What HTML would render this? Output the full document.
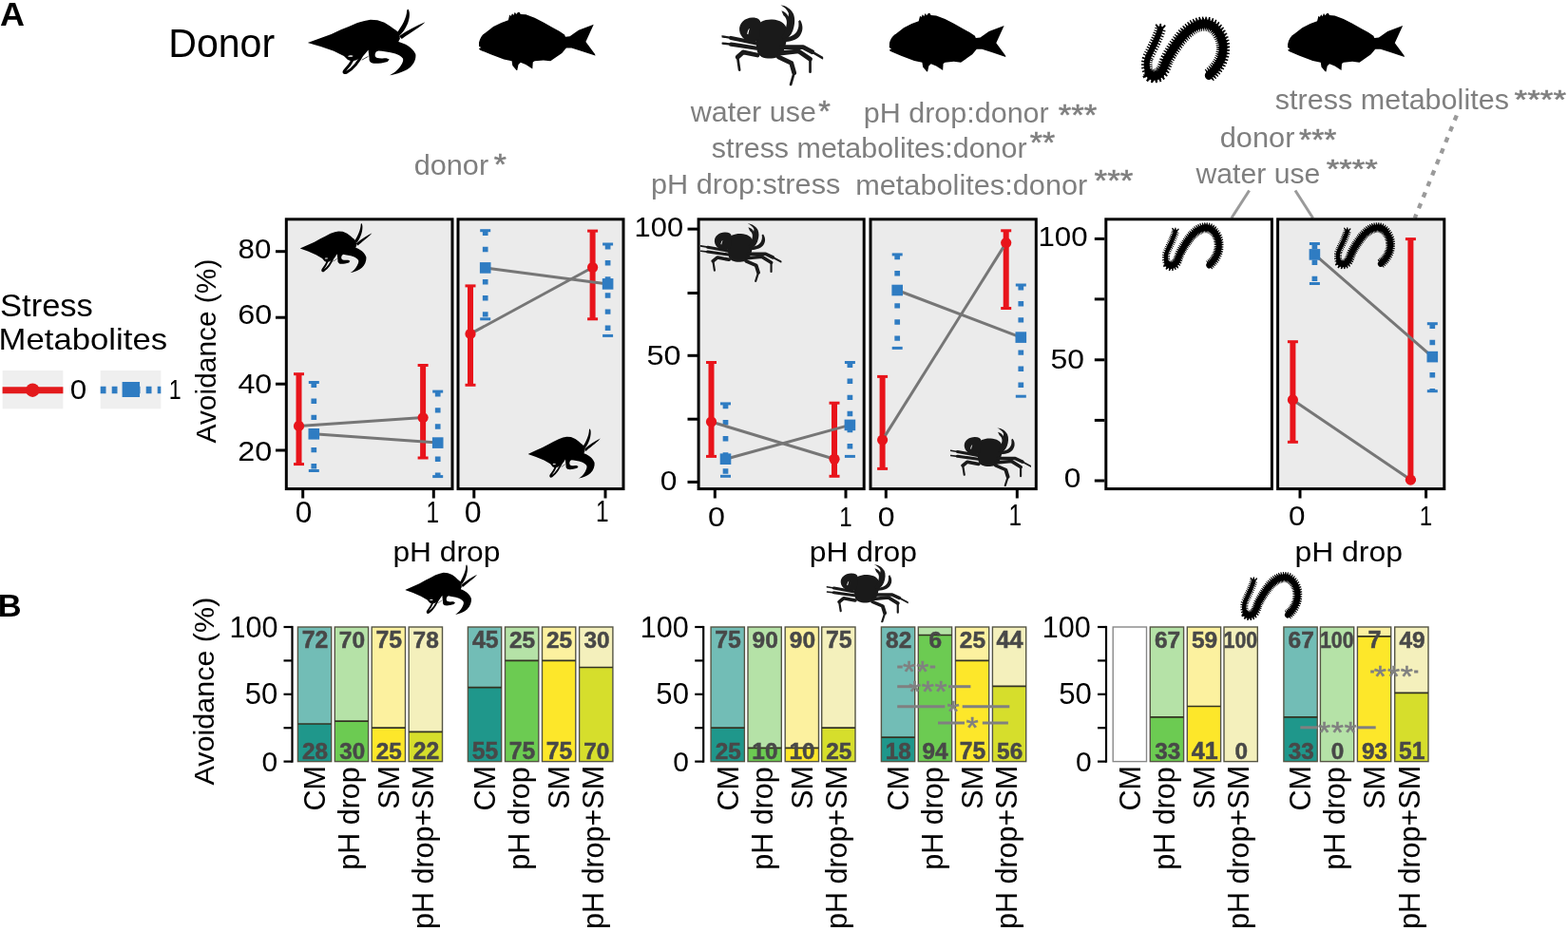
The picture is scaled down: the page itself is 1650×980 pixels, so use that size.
<!DOCTYPE html>
<html><head><meta charset="utf-8"><title>Figure</title>
<style>
html,body{margin:0;padding:0;background:#fff;overflow:hidden;}
svg{display:block;}
text{font-family:'Liberation Sans', Arial, Helvetica, sans-serif;}
</style></head>
<body>
<svg width="1650" height="980" viewBox="0 0 1650 980">
<defs><symbol id="hermit" viewBox="150 95 1350 770" preserveAspectRatio="none">
<path d="M150,488 L300,432 L420,388 L530,338 L620,300 L720,258 L800,235 L870,222 L950,228 L1030,255 L1090,292 L1140,330 L1165,345 L1185,365 L1202,400 L1208,440 L1190,478
C1260,495 1350,540 1387,620 C1395,670 1370,740 1308,785 C1260,820 1180,850 1088,866
C1130,845 1190,800 1216,755 C1240,720 1250,690 1241,670 C1232,650 1190,625 1155,614
L1100,600 L1000,585 L960,580
L935,592 C915,620 920,650 940,660 C980,675 1030,665 1052,666 L1086,681 L1064,706 C1000,725 930,730 893,724 C865,715 850,690 856,669 L844,571
L830,590 L800,625 L760,660 L700,690 L650,698 L610,685 L565,640 L450,585 L300,532 Z"/>
<path d="M1172,372 C1228,300 1285,200 1288,112 L1300,98 C1326,128 1322,200 1294,272 C1266,334 1236,376 1206,404 Z"/>
<path d="M1198,412 C1298,342 1398,292 1497,250 C1452,300 1352,356 1228,444 Z"/>
<path fill="none" stroke="#000" stroke-width="32" stroke-linecap="round" d="M680,660 C650,720 600,785 570,815 C558,832 575,840 595,830 C650,800 730,720 795,590"/>
<path fill="none" stroke="#000" stroke-width="8" d="M771,687 L844,645"/>
<path fill="#fff" d="M612,640 C630,632 660,632 673,640 C660,650 630,652 612,646 Z"/>
</symbol><symbol id="fish" viewBox="166 94 1324 660" preserveAspectRatio="none">
<path d="M160,470 C170,400 200,350 240,330 L330,260 L420,215 L500,185 L515,125 L530,140 L545,110 L560,130 L575,95 L590,120 L620,85 L640,118 L700,122 L800,160 L900,210 L1000,268 L1080,310 L1140,350 L1150,375 L1200,370 L1300,300 L1472,235 L1382,430 L1502,592 L1330,535 L1220,500 L1160,500 L1110,560 L980,650 L900,640 L800,650 L780,662 L775,737 L700,690 L640,665 L615,690 L600,762 L548,700 L540,650 L450,630 L300,575 L180,525 L165,510 L190,495 L158,478 Z"/>
</symbol><symbol id="crab" viewBox="150 45 1100 895" preserveAspectRatio="none">
<g fill="#1a1a1a">
<path d="M526,300 C540,235 620,205 700,210 C780,215 845,250 857,320 C865,400 850,480 820,560 C790,620 720,640 650,636 C580,632 540,600 530,540 C522,470 520,380 526,300 Z"/>
<path fill-rule="evenodd" d="M342,330 C335,250 400,190 480,188 C535,186 568,208 572,245 L560,420 L500,462 C420,455 350,410 342,330 Z M425,368 C428,340 438,318 452,305 C447,328 440,350 436,372 Z"/>
<path d="M800,400 C830,360 850,300 855,250 C858,215 845,185 820,165 L798,113 C835,125 862,150 872,178 L876,140 C860,100 825,70 789,53 C850,55 905,100 928,150 C948,200 943,270 922,330 C902,380 872,420 832,442 Z"/>
<path d="M818,455 C895,455 960,435 995,392 C1030,345 1040,280 1000,215 L982,228 C988,270 985,300 968,335 C948,378 895,405 808,418 Z"/>
</g>
<g fill="none" stroke="#1a1a1a" stroke-linecap="round" stroke-linejoin="round">
<polyline stroke-width="44" points="526,470 340,430 250,412"/>
<polyline stroke-width="24" points="250,412 152,394"/>
<polyline stroke-width="44" points="526,524 340,495 250,482"/>
<polyline stroke-width="24" points="250,482 157,470"/>
<polyline stroke-width="50" points="536,600 381,568 322,622"/>
<polyline stroke-width="28" points="322,622 342,763"/>
<polyline stroke-width="50" points="798,513 1032,513 1130,565"/>
<polyline stroke-width="26" points="1130,565 1245,633"/>
<polyline stroke-width="50" points="779,579 983,557 1109,644"/>
<polyline stroke-width="28" points="1109,644 1109,784"/>
<polyline stroke-width="50" points="769,622 905,687 935,795"/>
<polyline stroke-width="28" points="935,795 898,925"/>
</g>
</symbol><symbol id="worm" viewBox="175 207 950 658" preserveAspectRatio="none">
<g fill="none" stroke="#000" stroke-linejoin="round">
<path stroke-width="62" stroke-linecap="round" d="M378,330 C352,420 292,520 247,610 C227,660 230,720 252,762"/>
<path stroke-width="118" stroke-dasharray="12 15" stroke-linecap="butt" d="M378,330 C352,420 292,520 247,610 C227,660 230,720 252,762"/>
<path stroke-width="86" stroke-linecap="round" d="M252,762 C277,807 342,810 387,762 C422,720 432,660 457,618 C492,555 532,500 577,445 C622,390 702,305 802,282 C882,265 962,290 1020,395 C1060,470 1055,560 1030,625 C1005,690 960,740 897,791"/>
<path stroke-width="146" stroke-dasharray="12 15" stroke-linecap="butt" d="M252,762 C277,807 342,810 387,762 C422,720 432,660 457,618 C492,555 532,500 577,445 C622,390 702,305 802,282 C882,265 962,290 1020,395 C1060,470 1055,560 1030,625 C1005,690 960,740 897,791"/>
<path stroke-width="112" stroke-dasharray="16 11" stroke-linecap="butt" d="M252,762 C277,807 342,810 387,762 C422,720 432,660 457,618 C492,555 532,500 577,445 C622,390 702,305 802,282 C882,265 962,290 1020,395 C1060,470 1055,560 1030,625 C1005,690 960,740 897,791"/>
<path stroke-width="20" stroke-linecap="round" d="M370,335 L335,290 M390,335 L425,298 M378,330 L380,285"/>
</g>
</symbol></defs>
<rect width="1650" height="980" fill="#fff"/>
<text transform="translate(-0.10,26.50) scale(1.0261,1)" font-size="35.05" font-weight="bold" fill="#000">A</text>
<text transform="translate(177.21,59.88) scale(0.9752,1)" font-size="42.15" fill="#000">Donor</text>
<use href="#hermit" x="323.8" y="9.2" width="123.9" height="70.2"/>
<use href="#fish" x="504.0" y="12.7" width="122.4" height="61.3"/>
<use href="#crab" x="759.5" y="4.8" width="106.7" height="85.8"/>
<use href="#fish" x="935.8" y="13.8" width="122.5" height="61.7"/>
<use href="#worm" x="1201.0" y="17.5" width="93.5" height="69.8"/>
<use href="#fish" x="1355.1" y="13.8" width="122.7" height="61.7"/>
<text transform="translate(435.70,184.30) scale(1.0227,1)" font-size="30.00" fill="#7f7f7f">donor</text>
<text transform="translate(726.78,128.30) scale(1.0159,1)" font-size="30.00" fill="#7f7f7f">water use</text>
<text transform="translate(908.72,128.90) scale(1.0170,1)" font-size="30.00" fill="#7f7f7f">pH drop:donor</text>
<text transform="translate(748.86,166.40) scale(1.0157,1)" font-size="30.00" fill="#7f7f7f">stress metabolites:donor</text>
<text transform="translate(684.91,204.30) scale(1.0225,1)" font-size="30.00" fill="#7f7f7f">pH drop:stress</text>
<text transform="translate(900.13,204.50) scale(1.0240,1)" font-size="30.00" fill="#7f7f7f">metabolites:donor</text>
<text transform="translate(1341.76,115.10) scale(1.0187,1)" font-size="30.00" fill="#7f7f7f">stress metabolites</text>
<text transform="translate(1283.69,154.90) scale(1.0267,1)" font-size="30.00" fill="#7f7f7f">donor</text>
<text transform="translate(1258.38,192.50) scale(1.0074,1)" font-size="30.00" fill="#7f7f7f">water use</text>
<text transform="translate(519.71,183.91) scale(1.0755,1)" font-size="31.43" fill="#7f7f7f" stroke="#7f7f7f" stroke-width="0.5">*</text>
<text transform="translate(861.23,127.91) scale(1.0402,1)" font-size="31.14" fill="#7f7f7f" stroke="#7f7f7f" stroke-width="0.5">*</text>
<text transform="translate(1113.69,131.61) scale(1.1070,1)" font-size="31.43" fill="#7f7f7f" stroke="#7f7f7f" stroke-width="0.5">***</text>
<text transform="translate(1083.71,161.31) scale(1.0805,1)" font-size="31.43" fill="#7f7f7f" stroke="#7f7f7f" stroke-width="0.5">**</text>
<text transform="translate(1151.49,200.50) scale(1.0955,1)" font-size="32.00" fill="#7f7f7f" stroke="#7f7f7f" stroke-width="0.5">***</text>
<text transform="translate(1593.59,113.75) scale(1.2632,1)" font-size="27.71" fill="#7f7f7f" stroke="#7f7f7f" stroke-width="0.5">****</text>
<text transform="translate(1367.11,158.31) scale(1.0931,1)" font-size="30.86" fill="#7f7f7f" stroke="#7f7f7f" stroke-width="0.5">***</text>
<text transform="translate(1395.79,186.96) scale(1.2777,1)" font-size="27.14" fill="#7f7f7f" stroke="#7f7f7f" stroke-width="0.5">****</text>
<line x1="1314.6" y1="200.5" x2="1295.9" y2="229.5" stroke="#9a9a9a" stroke-width="3"/>
<line x1="1363" y1="200.5" x2="1381.6" y2="229.5" stroke="#9a9a9a" stroke-width="3"/>
<line x1="1532.8" y1="121.5" x2="1488.8" y2="229.5" stroke="#9a9a9a" stroke-width="4.3" stroke-dasharray="5.5 7"/>
<text transform="translate(0.05,333.17) scale(1.0482,1)" font-size="32.93" fill="#000">Stress</text>
<text transform="translate(-1.47,367.89) scale(1.1348,1)" font-size="30.61" fill="#000">Metabolites</text>
<rect x="2.6" y="390" width="63.8" height="40.3" fill="#efefef"/>
<rect x="105.7" y="390" width="63.6" height="40.3" fill="#efefef"/>
<line x1="2.6" y1="410.7" x2="66.4" y2="410.7" stroke="#e31a1c" stroke-width="7"/>
<circle cx="34.3" cy="410.7" r="7.2" fill="#e31a1c"/>
<line x1="105.7" y1="410.5" x2="169.3" y2="410.5" stroke="#2f7cc2" stroke-width="7.5" stroke-dasharray="5.8 6.2"/>
<rect x="128.6" y="402" width="18.4" height="16" fill="#2f7cc2"/>
<text transform="translate(73.74,420.01) scale(1.0948,1)" font-size="28.69" fill="#000">0</text>
<text transform="translate(177.72,420.00) scale(0.8000,1)" font-size="29.09" fill="#000">1</text>
<text transform="translate(226.65,466.47) rotate(-90) scale(0.9926,1)" font-size="30.13" fill="#000">Avoidance (%)</text>
<rect x="301.3" y="230.8" width="174.7" height="283.8" fill="#ebebeb" stroke="#000" stroke-width="3"/>
<rect x="482.0" y="230.8" width="174.0" height="283.8" fill="#ebebeb" stroke="#000" stroke-width="3"/>
<rect x="735.1" y="230.8" width="174.1" height="283.8" fill="#ebebeb" stroke="#000" stroke-width="3"/>
<rect x="916.0" y="230.8" width="174.3" height="283.8" fill="#ebebeb" stroke="#000" stroke-width="3"/>
<rect x="1163.8" y="230.8" width="174.6" height="283.8" fill="#ffffff" stroke="#000" stroke-width="3"/>
<rect x="1344.6" y="230.8" width="175.2" height="283.8" fill="#ebebeb" stroke="#000" stroke-width="3"/>
<line x1="290.0" y1="264.7" x2="300.5" y2="264.7" stroke="#000" stroke-width="3"/>
<line x1="290.0" y1="334.2" x2="300.5" y2="334.2" stroke="#000" stroke-width="3"/>
<line x1="290.0" y1="404.2" x2="300.5" y2="404.2" stroke="#000" stroke-width="3"/>
<line x1="290.0" y1="474.0" x2="300.5" y2="474.0" stroke="#000" stroke-width="3"/>
<line x1="723.5" y1="241.1" x2="734.0" y2="241.1" stroke="#000" stroke-width="3"/>
<line x1="723.5" y1="308.5" x2="734.0" y2="308.5" stroke="#000" stroke-width="3"/>
<line x1="723.5" y1="374.3" x2="734.0" y2="374.3" stroke="#000" stroke-width="3"/>
<line x1="723.5" y1="441.2" x2="734.0" y2="441.2" stroke="#000" stroke-width="3"/>
<line x1="723.5" y1="507.4" x2="734.0" y2="507.4" stroke="#000" stroke-width="3"/>
<line x1="1151.8" y1="251.4" x2="1162.3" y2="251.4" stroke="#000" stroke-width="3"/>
<line x1="1151.8" y1="314.9" x2="1162.3" y2="314.9" stroke="#000" stroke-width="3"/>
<line x1="1151.8" y1="378.8" x2="1162.3" y2="378.8" stroke="#000" stroke-width="3"/>
<line x1="1151.8" y1="442.4" x2="1162.3" y2="442.4" stroke="#000" stroke-width="3"/>
<line x1="1151.8" y1="506.0" x2="1162.3" y2="506.0" stroke="#000" stroke-width="3"/>
<text transform="translate(250.57,271.90) scale(1.0532,1)" font-size="29.68" fill="#000">80</text>
<text transform="translate(250.28,341.41) scale(1.1064,1)" font-size="29.26" fill="#000">60</text>
<text transform="translate(250.38,413.70) scale(1.0794,1)" font-size="29.82" fill="#000">40</text>
<text transform="translate(250.29,484.51) scale(1.0978,1)" font-size="29.40" fill="#000">20</text>
<text transform="translate(667.58,248.50) scale(1.0350,1)" font-size="29.82" fill="#000">100</text>
<text transform="translate(680.51,383.71) scale(1.1003,1)" font-size="29.40" fill="#000">50</text>
<text transform="translate(694.83,516.11) scale(1.0828,1)" font-size="29.40" fill="#000">0</text>
<text transform="translate(1092.46,258.61) scale(1.0682,1)" font-size="29.26" fill="#000">100</text>
<text transform="translate(1105.53,387.70) scale(1.0735,1)" font-size="29.68" fill="#000">50</text>
<text transform="translate(1119.64,513.30) scale(1.0654,1)" font-size="29.68" fill="#000">0</text>
<line x1="318.7" y1="514.6" x2="318.7" y2="524.5" stroke="#000" stroke-width="3"/>
<line x1="456.3" y1="514.6" x2="456.3" y2="524.5" stroke="#000" stroke-width="3"/>
<line x1="498.8" y1="514.6" x2="498.8" y2="524.5" stroke="#000" stroke-width="3"/>
<line x1="637.0" y1="514.6" x2="637.0" y2="524.5" stroke="#000" stroke-width="3"/>
<line x1="752.3" y1="514.6" x2="752.3" y2="524.5" stroke="#000" stroke-width="3"/>
<line x1="890.0" y1="514.6" x2="890.0" y2="524.5" stroke="#000" stroke-width="3"/>
<line x1="932.3" y1="514.6" x2="932.3" y2="524.5" stroke="#000" stroke-width="3"/>
<line x1="1070.3" y1="514.6" x2="1070.3" y2="524.5" stroke="#000" stroke-width="3"/>
<line x1="1368.0" y1="514.6" x2="1368.0" y2="524.5" stroke="#000" stroke-width="3"/>
<line x1="1500.6" y1="514.6" x2="1500.6" y2="524.5" stroke="#000" stroke-width="3"/>
<text transform="translate(310.84,549.59) scale(1.0358,1)" font-size="30.53" fill="#000">0</text>
<text transform="translate(448.43,549.50) scale(0.8000,1)" font-size="30.55" fill="#000">1</text>
<text transform="translate(488.72,549.59) scale(1.0495,1)" font-size="30.53" fill="#000">0</text>
<text transform="translate(626.88,549.30) scale(0.8000,1)" font-size="30.55" fill="#000">1</text>
<text transform="translate(745.01,553.70) scale(1.0866,1)" font-size="29.68" fill="#000">0</text>
<text transform="translate(883.18,553.70) scale(0.8000,1)" font-size="30.11" fill="#000">1</text>
<text transform="translate(923.72,553.70) scale(1.0795,1)" font-size="29.68" fill="#000">0</text>
<text transform="translate(1061.58,553.30) scale(0.8000,1)" font-size="30.55" fill="#000">1</text>
<text transform="translate(1355.94,552.90) scale(1.0484,1)" font-size="29.96" fill="#000">0</text>
<text transform="translate(1493.85,552.60) scale(0.8000,1)" font-size="30.25" fill="#000">1</text>
<text transform="translate(413.43,590.99) scale(1.0974,1)" font-size="28.95" fill="#000">pH drop</text>
<text transform="translate(851.83,590.99) scale(1.0994,1)" font-size="28.95" fill="#000">pH drop</text>
<text transform="translate(1362.42,590.99) scale(1.1034,1)" font-size="28.95" fill="#000">pH drop</text>
<line x1="314.5" y1="393.7" x2="314.5" y2="488.6" stroke="#e8141b" stroke-width="6"/>
<line x1="309.0" y1="393.7" x2="320.0" y2="393.7" stroke="#e8141b" stroke-width="3"/>
<line x1="309.0" y1="488.6" x2="320.0" y2="488.6" stroke="#e8141b" stroke-width="3"/>
<line x1="445.1" y1="384.5" x2="445.1" y2="482.0" stroke="#e8141b" stroke-width="6"/>
<line x1="439.6" y1="384.5" x2="450.6" y2="384.5" stroke="#e8141b" stroke-width="3"/>
<line x1="439.6" y1="482.0" x2="450.6" y2="482.0" stroke="#e8141b" stroke-width="3"/>
<line x1="330.3" y1="402.5" x2="330.3" y2="495.5" stroke="#2f7cc2" stroke-width="5.7" stroke-dasharray="5.4 11.7"/>
<line x1="324.8" y1="402.5" x2="335.8" y2="402.5" stroke="#2f7cc2" stroke-width="3"/>
<line x1="324.8" y1="495.5" x2="335.8" y2="495.5" stroke="#2f7cc2" stroke-width="3"/>
<line x1="460.7" y1="412.1" x2="460.7" y2="501.6" stroke="#2f7cc2" stroke-width="5.7" stroke-dasharray="5.4 11.7"/>
<line x1="455.2" y1="412.1" x2="466.2" y2="412.1" stroke="#2f7cc2" stroke-width="3"/>
<line x1="455.2" y1="501.6" x2="466.2" y2="501.6" stroke="#2f7cc2" stroke-width="3"/>
<line x1="314.5" y1="448.4" x2="445.1" y2="439.6" stroke="#767676" stroke-width="3"/>
<line x1="330.3" y1="456.8" x2="460.7" y2="466.1" stroke="#767676" stroke-width="3"/>
<circle cx="314.5" cy="448.4" r="5.6" fill="#e8141b"/>
<circle cx="445.1" cy="439.6" r="5.6" fill="#e8141b"/>
<rect x="324.5" y="451.0" width="11.6" height="11.6" fill="#2f7cc2"/>
<rect x="454.9" y="460.3" width="11.6" height="11.6" fill="#2f7cc2"/>
<line x1="495.0" y1="300.9" x2="495.0" y2="405.3" stroke="#e8141b" stroke-width="6"/>
<line x1="489.5" y1="300.9" x2="500.5" y2="300.9" stroke="#e8141b" stroke-width="3"/>
<line x1="489.5" y1="405.3" x2="500.5" y2="405.3" stroke="#e8141b" stroke-width="3"/>
<line x1="623.6" y1="243.1" x2="623.6" y2="335.8" stroke="#e8141b" stroke-width="6"/>
<line x1="618.1" y1="243.1" x2="629.1" y2="243.1" stroke="#e8141b" stroke-width="3"/>
<line x1="618.1" y1="335.8" x2="629.1" y2="335.8" stroke="#e8141b" stroke-width="3"/>
<line x1="510.7" y1="242.7" x2="510.7" y2="335.8" stroke="#2f7cc2" stroke-width="5.7" stroke-dasharray="5.4 11.7"/>
<line x1="505.2" y1="242.7" x2="516.2" y2="242.7" stroke="#2f7cc2" stroke-width="3"/>
<line x1="505.2" y1="335.8" x2="516.2" y2="335.8" stroke="#2f7cc2" stroke-width="3"/>
<line x1="639.6" y1="257.0" x2="639.6" y2="353.4" stroke="#2f7cc2" stroke-width="5.7" stroke-dasharray="5.4 11.7"/>
<line x1="634.1" y1="257.0" x2="645.1" y2="257.0" stroke="#2f7cc2" stroke-width="3"/>
<line x1="634.1" y1="353.4" x2="645.1" y2="353.4" stroke="#2f7cc2" stroke-width="3"/>
<line x1="495.0" y1="351.4" x2="623.6" y2="281.5" stroke="#767676" stroke-width="3"/>
<line x1="510.7" y1="281.9" x2="639.6" y2="298.9" stroke="#767676" stroke-width="3"/>
<circle cx="495.0" cy="351.4" r="5.6" fill="#e8141b"/>
<circle cx="623.6" cy="281.5" r="5.6" fill="#e8141b"/>
<rect x="504.9" y="276.1" width="11.6" height="11.6" fill="#2f7cc2"/>
<rect x="633.8" y="293.1" width="11.6" height="11.6" fill="#2f7cc2"/>
<line x1="748.5" y1="381.5" x2="748.5" y2="480.4" stroke="#e8141b" stroke-width="6"/>
<line x1="743.0" y1="381.5" x2="754.0" y2="381.5" stroke="#e8141b" stroke-width="3"/>
<line x1="743.0" y1="480.4" x2="754.0" y2="480.4" stroke="#e8141b" stroke-width="3"/>
<line x1="878.0" y1="424.2" x2="878.0" y2="501.3" stroke="#e8141b" stroke-width="6"/>
<line x1="872.5" y1="424.2" x2="883.5" y2="424.2" stroke="#e8141b" stroke-width="3"/>
<line x1="872.5" y1="501.3" x2="883.5" y2="501.3" stroke="#e8141b" stroke-width="3"/>
<line x1="763.5" y1="424.9" x2="763.5" y2="501.3" stroke="#2f7cc2" stroke-width="5.7" stroke-dasharray="5.4 11.7"/>
<line x1="758.0" y1="424.9" x2="769.0" y2="424.9" stroke="#2f7cc2" stroke-width="3"/>
<line x1="758.0" y1="501.3" x2="769.0" y2="501.3" stroke="#2f7cc2" stroke-width="3"/>
<line x1="894.4" y1="381.5" x2="894.4" y2="480.4" stroke="#2f7cc2" stroke-width="5.7" stroke-dasharray="5.4 11.7"/>
<line x1="888.9" y1="381.5" x2="899.9" y2="381.5" stroke="#2f7cc2" stroke-width="3"/>
<line x1="888.9" y1="480.4" x2="899.9" y2="480.4" stroke="#2f7cc2" stroke-width="3"/>
<line x1="748.5" y1="444.0" x2="878.0" y2="483.2" stroke="#767676" stroke-width="3"/>
<line x1="763.5" y1="483.2" x2="894.4" y2="447.4" stroke="#767676" stroke-width="3"/>
<circle cx="748.5" cy="444.0" r="5.6" fill="#e8141b"/>
<circle cx="878.0" cy="483.2" r="5.6" fill="#e8141b"/>
<rect x="757.7" y="477.4" width="11.6" height="11.6" fill="#2f7cc2"/>
<rect x="888.6" y="441.6" width="11.6" height="11.6" fill="#2f7cc2"/>
<line x1="928.6" y1="396.4" x2="928.6" y2="493.4" stroke="#e8141b" stroke-width="6"/>
<line x1="923.1" y1="396.4" x2="934.1" y2="396.4" stroke="#e8141b" stroke-width="3"/>
<line x1="923.1" y1="493.4" x2="934.1" y2="493.4" stroke="#e8141b" stroke-width="3"/>
<line x1="1058.7" y1="242.8" x2="1058.7" y2="324.5" stroke="#e8141b" stroke-width="6"/>
<line x1="1053.2" y1="242.8" x2="1064.2" y2="242.8" stroke="#e8141b" stroke-width="3"/>
<line x1="1053.2" y1="324.5" x2="1064.2" y2="324.5" stroke="#e8141b" stroke-width="3"/>
<line x1="944.2" y1="267.9" x2="944.2" y2="366.4" stroke="#2f7cc2" stroke-width="5.7" stroke-dasharray="5.4 11.7"/>
<line x1="938.7" y1="267.9" x2="949.7" y2="267.9" stroke="#2f7cc2" stroke-width="3"/>
<line x1="938.7" y1="366.4" x2="949.7" y2="366.4" stroke="#2f7cc2" stroke-width="3"/>
<line x1="1074.3" y1="300.0" x2="1074.3" y2="417.2" stroke="#2f7cc2" stroke-width="5.7" stroke-dasharray="5.4 11.7"/>
<line x1="1068.8" y1="300.0" x2="1079.8" y2="300.0" stroke="#2f7cc2" stroke-width="3"/>
<line x1="1068.8" y1="417.2" x2="1079.8" y2="417.2" stroke="#2f7cc2" stroke-width="3"/>
<line x1="928.6" y1="463.1" x2="1058.7" y2="255.6" stroke="#767676" stroke-width="3"/>
<line x1="944.2" y1="305.5" x2="1074.3" y2="355.1" stroke="#767676" stroke-width="3"/>
<circle cx="928.6" cy="463.1" r="5.6" fill="#e8141b"/>
<circle cx="1058.7" cy="255.6" r="5.6" fill="#e8141b"/>
<rect x="938.4" y="299.7" width="11.6" height="11.6" fill="#2f7cc2"/>
<rect x="1068.5" y="349.3" width="11.6" height="11.6" fill="#2f7cc2"/>
<line x1="1360.4" y1="359.7" x2="1360.4" y2="465.3" stroke="#e8141b" stroke-width="6"/>
<line x1="1354.9" y1="359.7" x2="1365.9" y2="359.7" stroke="#e8141b" stroke-width="3"/>
<line x1="1354.9" y1="465.3" x2="1365.9" y2="465.3" stroke="#e8141b" stroke-width="3"/>
<line x1="1484.4" y1="251.6" x2="1484.4" y2="505.1" stroke="#e8141b" stroke-width="6"/>
<line x1="1478.9" y1="251.6" x2="1489.9" y2="251.6" stroke="#e8141b" stroke-width="3"/>
<line x1="1478.9" y1="505.1" x2="1489.9" y2="505.1" stroke="#e8141b" stroke-width="3"/>
<line x1="1383.4" y1="256.5" x2="1383.4" y2="298.5" stroke="#2f7cc2" stroke-width="5.7" stroke-dasharray="5.4 11.7"/>
<line x1="1377.9" y1="256.5" x2="1388.9" y2="256.5" stroke="#2f7cc2" stroke-width="3"/>
<line x1="1377.9" y1="298.5" x2="1388.9" y2="298.5" stroke="#2f7cc2" stroke-width="3"/>
<line x1="1507.3" y1="340.7" x2="1507.3" y2="411.7" stroke="#2f7cc2" stroke-width="5.7" stroke-dasharray="5.4 11.7"/>
<line x1="1501.8" y1="340.7" x2="1512.8" y2="340.7" stroke="#2f7cc2" stroke-width="3"/>
<line x1="1501.8" y1="411.7" x2="1512.8" y2="411.7" stroke="#2f7cc2" stroke-width="3"/>
<line x1="1360.4" y1="420.9" x2="1484.4" y2="505.1" stroke="#767676" stroke-width="3"/>
<line x1="1383.4" y1="267.9" x2="1507.3" y2="375.6" stroke="#767676" stroke-width="3"/>
<circle cx="1360.4" cy="420.9" r="5.6" fill="#e8141b"/>
<circle cx="1484.4" cy="505.1" r="5.6" fill="#e8141b"/>
<rect x="1377.6" y="262.1" width="11.6" height="11.6" fill="#2f7cc2"/>
<rect x="1501.5" y="369.8" width="11.6" height="11.6" fill="#2f7cc2"/>
<use href="#hermit" x="315.7" y="234.7" width="76.0" height="52.6"/>
<use href="#hermit" x="555.6" y="451.0" width="76.4" height="52.7"/>
<use href="#crab" x="737.0" y="234.6" width="85.5" height="62.4"/>
<use href="#crab" x="999.9" y="450.0" width="85.1" height="62.1"/>
<use href="#worm" x="1222.9" y="234.2" width="64.9" height="50.7"/>
<use href="#worm" x="1403.9" y="234.2" width="64.3" height="49.0"/>
<text transform="translate(-2.32,648.90) scale(1.0661,1)" font-size="32.29" font-weight="bold" fill="#000">B</text>
<use href="#hermit" x="426.2" y="594.1" width="76.1" height="52.8"/>
<use href="#crab" x="869.7" y="593.6" width="86.1" height="61.9"/>
<use href="#worm" x="1305.2" y="602.1" width="65.4" height="50.9"/>
<text transform="translate(225.29,826.58) rotate(-90) scale(1.0200,1)" font-size="29.92" fill="#000">Avoidance (%)</text>
<line x1="307.5" y1="658.9" x2="307.5" y2="802.7" stroke="#000" stroke-width="2.2"/>
<line x1="298.5" y1="660.0" x2="307.5" y2="660.0" stroke="#000" stroke-width="2.2"/>
<line x1="298.5" y1="695.4" x2="307.5" y2="695.4" stroke="#000" stroke-width="2.2"/>
<line x1="298.5" y1="730.8" x2="307.5" y2="730.8" stroke="#000" stroke-width="2.2"/>
<line x1="298.5" y1="766.2" x2="307.5" y2="766.2" stroke="#000" stroke-width="2.2"/>
<line x1="298.5" y1="801.6" x2="307.5" y2="801.6" stroke="#000" stroke-width="2.2"/>
<text transform="translate(241.51,670.59) scale(0.9914,1)" font-size="30.81" fill="#000">100</text>
<text transform="translate(257.66,741.29) scale(1.0090,1)" font-size="30.81" fill="#000">50</text>
<text transform="translate(275.50,812.10) scale(0.9901,1)" font-size="30.25" fill="#000">0</text>
<line x1="740.2" y1="658.9" x2="740.2" y2="802.7" stroke="#000" stroke-width="2.2"/>
<line x1="731.2" y1="660.0" x2="740.2" y2="660.0" stroke="#000" stroke-width="2.2"/>
<line x1="731.2" y1="695.4" x2="740.2" y2="695.4" stroke="#000" stroke-width="2.2"/>
<line x1="731.2" y1="730.8" x2="740.2" y2="730.8" stroke="#000" stroke-width="2.2"/>
<line x1="731.2" y1="766.2" x2="740.2" y2="766.2" stroke="#000" stroke-width="2.2"/>
<line x1="731.2" y1="801.6" x2="740.2" y2="801.6" stroke="#000" stroke-width="2.2"/>
<text transform="translate(673.71,670.59) scale(0.9914,1)" font-size="30.81" fill="#000">100</text>
<text transform="translate(690.36,741.29) scale(1.0090,1)" font-size="30.81" fill="#000">50</text>
<text transform="translate(708.20,812.10) scale(0.9901,1)" font-size="30.25" fill="#000">0</text>
<line x1="1164.0" y1="658.9" x2="1164.0" y2="802.7" stroke="#000" stroke-width="2.2"/>
<line x1="1155.0" y1="660.0" x2="1164.0" y2="660.0" stroke="#000" stroke-width="2.2"/>
<line x1="1155.0" y1="695.4" x2="1164.0" y2="695.4" stroke="#000" stroke-width="2.2"/>
<line x1="1155.0" y1="730.8" x2="1164.0" y2="730.8" stroke="#000" stroke-width="2.2"/>
<line x1="1155.0" y1="766.2" x2="1164.0" y2="766.2" stroke="#000" stroke-width="2.2"/>
<line x1="1155.0" y1="801.6" x2="1164.0" y2="801.6" stroke="#000" stroke-width="2.2"/>
<text transform="translate(1096.71,670.59) scale(0.9914,1)" font-size="30.81" fill="#000">100</text>
<text transform="translate(1114.16,741.29) scale(1.0090,1)" font-size="30.81" fill="#000">50</text>
<text transform="translate(1132.00,812.10) scale(0.9901,1)" font-size="30.25" fill="#000">0</text>
<rect x="313.4" y="660.0" width="35.3" height="102.0" fill="#72bdb6"/>
<rect x="313.4" y="762.0" width="35.3" height="39.6" fill="#1f978b"/>
<rect x="313.4" y="660.0" width="35.3" height="141.6" fill="none" stroke="#555544" stroke-width="1.4"/>
<line x1="313.4" y1="762.0" x2="348.7" y2="762.0" stroke="#333322" stroke-width="1.7"/>
<text transform="translate(317.70,681.90) scale(0.9900,1)" font-size="25.09" font-weight="bold" fill="#484848" stroke="#484848" stroke-width="0.5">72</text>
<text transform="translate(317.98,798.65) scale(0.9900,1)" font-size="24.59" font-weight="bold" fill="#484848" stroke="#484848" stroke-width="0.5">28</text>
<text transform="translate(341.83,853.41) rotate(-90) scale(1.0000,1)" font-size="30.50" fill="#000">CM</text>
<rect x="352.3" y="660.0" width="35.3" height="99.1" fill="#b5e2a7"/>
<rect x="352.3" y="759.1" width="35.3" height="42.5" fill="#6ccb52"/>
<rect x="352.3" y="660.0" width="35.3" height="141.6" fill="none" stroke="#555544" stroke-width="1.4"/>
<line x1="352.3" y1="759.1" x2="387.6" y2="759.1" stroke="#333322" stroke-width="1.7"/>
<text transform="translate(356.83,681.65) scale(0.9900,1)" font-size="24.73" font-weight="bold" fill="#484848" stroke="#484848" stroke-width="0.5">70</text>
<text transform="translate(357.20,798.59) scale(0.9900,1)" font-size="24.51" font-weight="bold" fill="#484848" stroke="#484848" stroke-width="0.5">30</text>
<text transform="translate(378.14,915.78) rotate(-90) scale(1.0000,1)" font-size="30.50" fill="#000">pH drop</text>
<rect x="391.2" y="660.0" width="35.3" height="106.2" fill="#fcf19f"/>
<rect x="391.2" y="766.2" width="35.3" height="35.4" fill="#fde72a"/>
<rect x="391.2" y="660.0" width="35.3" height="141.6" fill="none" stroke="#555544" stroke-width="1.4"/>
<line x1="391.2" y1="766.2" x2="426.5" y2="766.2" stroke="#333322" stroke-width="1.7"/>
<text transform="translate(395.38,681.65) scale(0.9900,1)" font-size="25.09" font-weight="bold" fill="#484848" stroke="#484848" stroke-width="0.5">75</text>
<text transform="translate(395.75,798.65) scale(0.9900,1)" font-size="24.59" font-weight="bold" fill="#484848" stroke="#484848" stroke-width="0.5">25</text>
<text transform="translate(419.63,851.73) rotate(-90) scale(1.0000,1)" font-size="30.50" fill="#000">SM</text>
<rect x="430.2" y="660.0" width="35.3" height="110.4" fill="#f4f0bc"/>
<rect x="430.2" y="770.4" width="35.3" height="31.2" fill="#d6de2c"/>
<rect x="430.2" y="660.0" width="35.3" height="141.6" fill="none" stroke="#555544" stroke-width="1.4"/>
<line x1="430.2" y1="770.4" x2="465.5" y2="770.4" stroke="#333322" stroke-width="1.7"/>
<text transform="translate(434.61,681.65) scale(0.9900,1)" font-size="24.73" font-weight="bold" fill="#484848" stroke="#484848" stroke-width="0.5">78</text>
<text transform="translate(434.67,798.90) scale(0.9900,1)" font-size="24.95" font-weight="bold" fill="#484848" stroke="#484848" stroke-width="0.5">22</text>
<text transform="translate(456.04,978.00) rotate(-90) scale(1.0000,1)" font-size="30.50" fill="#000">pH drop+SM</text>
<rect x="492.4" y="660.0" width="35.3" height="63.7" fill="#72bdb6"/>
<rect x="492.4" y="723.7" width="35.3" height="77.9" fill="#1f978b"/>
<rect x="492.4" y="660.0" width="35.3" height="141.6" fill="none" stroke="#555544" stroke-width="1.4"/>
<line x1="492.4" y1="723.7" x2="527.6999999999999" y2="723.7" stroke="#333322" stroke-width="1.7"/>
<text transform="translate(496.92,681.65) scale(0.9900,1)" font-size="25.09" font-weight="bold" fill="#484848" stroke="#484848" stroke-width="0.5">45</text>
<text transform="translate(496.81,798.65) scale(0.9900,1)" font-size="24.95" font-weight="bold" fill="#484848" stroke="#484848" stroke-width="0.5">55</text>
<text transform="translate(520.83,853.41) rotate(-90) scale(1.0000,1)" font-size="30.50" fill="#000">CM</text>
<rect x="531.5" y="660.0" width="35.3" height="35.4" fill="#b5e2a7"/>
<rect x="531.5" y="695.4" width="35.3" height="106.2" fill="#6ccb52"/>
<rect x="531.5" y="660.0" width="35.3" height="141.6" fill="none" stroke="#555544" stroke-width="1.4"/>
<line x1="531.5" y1="695.4" x2="566.8" y2="695.4" stroke="#333322" stroke-width="1.7"/>
<text transform="translate(535.97,681.65) scale(0.9900,1)" font-size="24.73" font-weight="bold" fill="#484848" stroke="#484848" stroke-width="0.5">25</text>
<text transform="translate(535.76,798.65) scale(0.9900,1)" font-size="24.95" font-weight="bold" fill="#484848" stroke="#484848" stroke-width="0.5">75</text>
<text transform="translate(557.34,915.78) rotate(-90) scale(1.0000,1)" font-size="30.50" fill="#000">pH drop</text>
<rect x="570.5" y="660.0" width="35.3" height="35.4" fill="#fcf19f"/>
<rect x="570.5" y="695.4" width="35.3" height="106.2" fill="#fde72a"/>
<rect x="570.5" y="660.0" width="35.3" height="141.6" fill="none" stroke="#555544" stroke-width="1.4"/>
<line x1="570.5" y1="695.4" x2="605.8" y2="695.4" stroke="#333322" stroke-width="1.7"/>
<text transform="translate(574.97,681.65) scale(0.9900,1)" font-size="24.73" font-weight="bold" fill="#484848" stroke="#484848" stroke-width="0.5">25</text>
<text transform="translate(574.76,798.65) scale(0.9900,1)" font-size="24.95" font-weight="bold" fill="#484848" stroke="#484848" stroke-width="0.5">75</text>
<text transform="translate(598.93,851.73) rotate(-90) scale(1.0000,1)" font-size="30.50" fill="#000">SM</text>
<rect x="609.6" y="660.0" width="35.3" height="42.5" fill="#f4f0bc"/>
<rect x="609.6" y="702.5" width="35.3" height="99.1" fill="#d6de2c"/>
<rect x="609.6" y="660.0" width="35.3" height="141.6" fill="none" stroke="#555544" stroke-width="1.4"/>
<line x1="609.6" y1="702.5" x2="644.9" y2="702.5" stroke="#333322" stroke-width="1.7"/>
<text transform="translate(614.42,681.59) scale(0.9900,1)" font-size="24.65" font-weight="bold" fill="#484848" stroke="#484848" stroke-width="0.5">30</text>
<text transform="translate(614.21,798.65) scale(0.9900,1)" font-size="24.59" font-weight="bold" fill="#484848" stroke="#484848" stroke-width="0.5">70</text>
<text transform="translate(635.44,978.00) rotate(-90) scale(1.0000,1)" font-size="30.50" fill="#000">pH drop+SM</text>
<rect x="748.1" y="660.0" width="35.3" height="106.2" fill="#72bdb6"/>
<rect x="748.1" y="766.2" width="35.3" height="35.4" fill="#1f978b"/>
<rect x="748.1" y="660.0" width="35.3" height="141.6" fill="none" stroke="#555544" stroke-width="1.4"/>
<line x1="748.1" y1="766.2" x2="783.4" y2="766.2" stroke="#333322" stroke-width="1.7"/>
<text transform="translate(752.28,681.65) scale(0.9900,1)" font-size="25.09" font-weight="bold" fill="#484848" stroke="#484848" stroke-width="0.5">75</text>
<text transform="translate(752.65,798.65) scale(0.9900,1)" font-size="24.59" font-weight="bold" fill="#484848" stroke="#484848" stroke-width="0.5">25</text>
<text transform="translate(776.53,853.41) rotate(-90) scale(1.0000,1)" font-size="30.50" fill="#000">CM</text>
<rect x="787.0" y="660.0" width="35.3" height="127.4" fill="#b5e2a7"/>
<rect x="787.0" y="787.4" width="35.3" height="14.2" fill="#6ccb52"/>
<rect x="787.0" y="660.0" width="35.3" height="141.6" fill="none" stroke="#555544" stroke-width="1.4"/>
<line x1="787.0" y1="787.4" x2="822.3" y2="787.4" stroke="#333322" stroke-width="1.7"/>
<text transform="translate(791.62,681.65) scale(0.9900,1)" font-size="24.73" font-weight="bold" fill="#484848" stroke="#484848" stroke-width="0.5">90</text>
<text transform="translate(791.36,798.65) scale(0.9900,1)" font-size="24.59" font-weight="bold" fill="#484848" stroke="#484848" stroke-width="0.5">10</text>
<text transform="translate(812.84,915.78) rotate(-90) scale(1.0000,1)" font-size="30.50" fill="#000">pH drop</text>
<rect x="826.2" y="660.0" width="35.3" height="127.4" fill="#fcf19f"/>
<rect x="826.2" y="787.4" width="35.3" height="14.2" fill="#fde72a"/>
<rect x="826.2" y="660.0" width="35.3" height="141.6" fill="none" stroke="#555544" stroke-width="1.4"/>
<line x1="826.2" y1="787.4" x2="861.5" y2="787.4" stroke="#333322" stroke-width="1.7"/>
<text transform="translate(830.82,681.65) scale(0.9900,1)" font-size="24.73" font-weight="bold" fill="#484848" stroke="#484848" stroke-width="0.5">90</text>
<text transform="translate(830.56,798.65) scale(0.9900,1)" font-size="24.59" font-weight="bold" fill="#484848" stroke="#484848" stroke-width="0.5">10</text>
<text transform="translate(854.63,851.73) rotate(-90) scale(1.0000,1)" font-size="30.50" fill="#000">SM</text>
<rect x="864.7" y="660.0" width="35.3" height="106.2" fill="#f4f0bc"/>
<rect x="864.7" y="766.2" width="35.3" height="35.4" fill="#d6de2c"/>
<rect x="864.7" y="660.0" width="35.3" height="141.6" fill="none" stroke="#555544" stroke-width="1.4"/>
<line x1="864.7" y1="766.2" x2="900.0" y2="766.2" stroke="#333322" stroke-width="1.7"/>
<text transform="translate(868.88,681.65) scale(0.9900,1)" font-size="25.09" font-weight="bold" fill="#484848" stroke="#484848" stroke-width="0.5">75</text>
<text transform="translate(869.25,798.65) scale(0.9900,1)" font-size="24.59" font-weight="bold" fill="#484848" stroke="#484848" stroke-width="0.5">25</text>
<text transform="translate(890.54,978.00) rotate(-90) scale(1.0000,1)" font-size="30.50" fill="#000">pH drop+SM</text>
<rect x="927.4" y="660.0" width="35.3" height="116.1" fill="#72bdb6"/>
<rect x="927.4" y="776.1" width="35.3" height="25.5" fill="#1f978b"/>
<rect x="927.4" y="660.0" width="35.3" height="141.6" fill="none" stroke="#555544" stroke-width="1.4"/>
<line x1="927.4" y1="776.1" x2="962.6999999999999" y2="776.1" stroke="#333322" stroke-width="1.7"/>
<text transform="translate(932.02,681.65) scale(0.9900,1)" font-size="24.73" font-weight="bold" fill="#484848" stroke="#484848" stroke-width="0.5">82</text>
<text transform="translate(931.64,798.65) scale(0.9900,1)" font-size="24.59" font-weight="bold" fill="#484848" stroke="#484848" stroke-width="0.5">18</text>
<text transform="translate(955.83,853.41) rotate(-90) scale(1.0000,1)" font-size="30.50" fill="#000">CM</text>
<rect x="966.3" y="660.0" width="35.3" height="8.5" fill="#b5e2a7"/>
<rect x="966.3" y="668.5" width="35.3" height="133.1" fill="#6ccb52"/>
<rect x="966.3" y="660.0" width="35.3" height="141.6" fill="none" stroke="#555544" stroke-width="1.4"/>
<line x1="966.3" y1="668.5" x2="1001.5999999999999" y2="668.5" stroke="#333322" stroke-width="1.7"/>
<text transform="translate(977.62,681.65) scale(0.9900,1)" font-size="24.73" font-weight="bold" fill="#484848" stroke="#484848" stroke-width="0.5">6</text>
<text transform="translate(970.57,798.65) scale(0.9900,1)" font-size="24.59" font-weight="bold" fill="#484848" stroke="#484848" stroke-width="0.5">94</text>
<text transform="translate(992.14,915.78) rotate(-90) scale(1.0000,1)" font-size="30.50" fill="#000">pH drop</text>
<rect x="1005.4" y="660.0" width="35.3" height="35.4" fill="#fcf19f"/>
<rect x="1005.4" y="695.4" width="35.3" height="106.2" fill="#fde72a"/>
<rect x="1005.4" y="660.0" width="35.3" height="141.6" fill="none" stroke="#555544" stroke-width="1.4"/>
<line x1="1005.4" y1="695.4" x2="1040.7" y2="695.4" stroke="#333322" stroke-width="1.7"/>
<text transform="translate(1009.87,681.65) scale(0.9900,1)" font-size="24.73" font-weight="bold" fill="#484848" stroke="#484848" stroke-width="0.5">25</text>
<text transform="translate(1009.66,798.65) scale(0.9900,1)" font-size="24.95" font-weight="bold" fill="#484848" stroke="#484848" stroke-width="0.5">75</text>
<text transform="translate(1033.83,851.73) rotate(-90) scale(1.0000,1)" font-size="30.50" fill="#000">SM</text>
<rect x="1044.4" y="660.0" width="35.3" height="62.3" fill="#f4f0bc"/>
<rect x="1044.4" y="722.3" width="35.3" height="79.3" fill="#d6de2c"/>
<rect x="1044.4" y="660.0" width="35.3" height="141.6" fill="none" stroke="#555544" stroke-width="1.4"/>
<line x1="1044.4" y1="722.3" x2="1079.7" y2="722.3" stroke="#333322" stroke-width="1.7"/>
<text transform="translate(1048.44,681.90) scale(0.9900,1)" font-size="25.45" font-weight="bold" fill="#484848" stroke="#484848" stroke-width="0.5">44</text>
<text transform="translate(1049.10,798.65) scale(0.9900,1)" font-size="24.59" font-weight="bold" fill="#484848" stroke="#484848" stroke-width="0.5">56</text>
<text transform="translate(1070.24,978.00) rotate(-90) scale(1.0000,1)" font-size="30.50" fill="#000">pH drop+SM</text>
<rect x="1171.2" y="660.0" width="35.3" height="141.6" fill="#fff" stroke="#888" stroke-width="1.4"/>
<text transform="translate(1199.63,853.41) rotate(-90) scale(1.0000,1)" font-size="30.50" fill="#000">CM</text>
<rect x="1210.3" y="660.0" width="35.3" height="94.9" fill="#b5e2a7"/>
<rect x="1210.3" y="754.9" width="35.3" height="46.7" fill="#6ccb52"/>
<rect x="1210.3" y="660.0" width="35.3" height="141.6" fill="none" stroke="#555544" stroke-width="1.4"/>
<line x1="1210.3" y1="754.9" x2="1245.6" y2="754.9" stroke="#333322" stroke-width="1.7"/>
<text transform="translate(1214.92,681.65) scale(0.9900,1)" font-size="24.73" font-weight="bold" fill="#484848" stroke="#484848" stroke-width="0.5">67</text>
<text transform="translate(1215.14,798.59) scale(0.9900,1)" font-size="24.51" font-weight="bold" fill="#484848" stroke="#484848" stroke-width="0.5">33</text>
<text transform="translate(1236.14,915.78) rotate(-90) scale(1.0000,1)" font-size="30.50" fill="#000">pH drop</text>
<rect x="1249.3" y="660.0" width="35.3" height="83.5" fill="#fcf19f"/>
<rect x="1249.3" y="743.5" width="35.3" height="58.1" fill="#fde72a"/>
<rect x="1249.3" y="660.0" width="35.3" height="141.6" fill="none" stroke="#555544" stroke-width="1.4"/>
<line x1="1249.3" y1="743.5" x2="1284.6" y2="743.5" stroke="#333322" stroke-width="1.7"/>
<text transform="translate(1253.92,681.65) scale(0.9900,1)" font-size="24.73" font-weight="bold" fill="#484848" stroke="#484848" stroke-width="0.5">59</text>
<text transform="translate(1253.70,798.90) scale(0.9900,1)" font-size="25.31" font-weight="bold" fill="#484848" stroke="#484848" stroke-width="0.5">41</text>
<text transform="translate(1277.73,851.73) rotate(-90) scale(1.0000,1)" font-size="30.50" fill="#000">SM</text>
<rect x="1288.0" y="660.0" width="35.3" height="141.6" fill="#f4f0bc"/>
<rect x="1288.0" y="801.6" width="35.3" height="0.0" fill="#d6de2c"/>
<rect x="1288.0" y="660.0" width="35.3" height="141.6" fill="none" stroke="#555544" stroke-width="1.4"/>
<text transform="translate(1287.56,681.65) scale(0.8654,1)" font-size="24.73" font-weight="bold" fill="#484848" stroke="#484848" stroke-width="0.5">100</text>
<text transform="translate(1299.39,798.65) scale(0.9900,1)" font-size="24.59" font-weight="bold" fill="#484848" stroke="#484848" stroke-width="0.5">0</text>
<text transform="translate(1313.84,978.00) rotate(-90) scale(1.0000,1)" font-size="30.50" fill="#000">pH drop+SM</text>
<rect x="1350.9" y="660.0" width="35.3" height="94.9" fill="#72bdb6"/>
<rect x="1350.9" y="754.9" width="35.3" height="46.7" fill="#1f978b"/>
<rect x="1350.9" y="660.0" width="35.3" height="141.6" fill="none" stroke="#555544" stroke-width="1.4"/>
<line x1="1350.9" y1="754.9" x2="1386.2" y2="754.9" stroke="#333322" stroke-width="1.7"/>
<text transform="translate(1355.52,681.65) scale(0.9900,1)" font-size="24.73" font-weight="bold" fill="#484848" stroke="#484848" stroke-width="0.5">67</text>
<text transform="translate(1355.74,798.59) scale(0.9900,1)" font-size="24.51" font-weight="bold" fill="#484848" stroke="#484848" stroke-width="0.5">33</text>
<text transform="translate(1379.33,853.41) rotate(-90) scale(1.0000,1)" font-size="30.50" fill="#000">CM</text>
<rect x="1389.4" y="660.0" width="35.3" height="141.6" fill="#b5e2a7"/>
<rect x="1389.4" y="801.6" width="35.3" height="0.0" fill="#6ccb52"/>
<rect x="1389.4" y="660.0" width="35.3" height="141.6" fill="none" stroke="#555544" stroke-width="1.4"/>
<text transform="translate(1388.96,681.65) scale(0.8654,1)" font-size="24.73" font-weight="bold" fill="#484848" stroke="#484848" stroke-width="0.5">100</text>
<text transform="translate(1400.79,798.65) scale(0.9900,1)" font-size="24.59" font-weight="bold" fill="#484848" stroke="#484848" stroke-width="0.5">0</text>
<text transform="translate(1415.24,915.78) rotate(-90) scale(1.0000,1)" font-size="30.50" fill="#000">pH drop</text>
<rect x="1428.4" y="660.0" width="35.3" height="9.9" fill="#fcf19f"/>
<rect x="1428.4" y="669.9" width="35.3" height="131.7" fill="#fde72a"/>
<rect x="1428.4" y="660.0" width="35.3" height="141.6" fill="none" stroke="#555544" stroke-width="1.4"/>
<line x1="1428.4" y1="669.9" x2="1463.7" y2="669.9" stroke="#333322" stroke-width="1.7"/>
<text transform="translate(1439.56,681.90) scale(0.9900,1)" font-size="25.45" font-weight="bold" fill="#484848" stroke="#484848" stroke-width="0.5">7</text>
<text transform="translate(1433.08,798.59) scale(0.9900,1)" font-size="24.51" font-weight="bold" fill="#484848" stroke="#484848" stroke-width="0.5">93</text>
<text transform="translate(1456.83,851.73) rotate(-90) scale(1.0000,1)" font-size="30.50" fill="#000">SM</text>
<rect x="1467.7" y="660.0" width="35.3" height="69.4" fill="#f4f0bc"/>
<rect x="1467.7" y="729.4" width="35.3" height="72.2" fill="#d6de2c"/>
<rect x="1467.7" y="660.0" width="35.3" height="141.6" fill="none" stroke="#555544" stroke-width="1.4"/>
<line x1="1467.7" y1="729.4" x2="1503.0" y2="729.4" stroke="#333322" stroke-width="1.7"/>
<text transform="translate(1472.50,681.65) scale(0.9900,1)" font-size="24.73" font-weight="bold" fill="#484848" stroke="#484848" stroke-width="0.5">49</text>
<text transform="translate(1472.11,798.65) scale(0.9900,1)" font-size="24.95" font-weight="bold" fill="#484848" stroke="#484848" stroke-width="0.5">51</text>
<text transform="translate(1493.54,978.00) rotate(-90) scale(1.0000,1)" font-size="30.50" fill="#000">pH drop+SM</text>
<line x1="944.2" y1="702.0" x2="949.7" y2="702.0" stroke="#808080" stroke-width="3"/>
<line x1="978.7" y1="702.0" x2="984.2" y2="702.0" stroke="#808080" stroke-width="3"/>
<text transform="translate(950.01,718.11) scale(1.0755,1)" font-size="31.43" fill="#808080" stroke="#808080" stroke-width="0.5">*</text>
<text transform="translate(964.31,718.11) scale(1.0755,1)" font-size="31.43" fill="#808080" stroke="#808080" stroke-width="0.5">*</text>
<line x1="944.2" y1="722.7" x2="960.3" y2="722.7" stroke="#808080" stroke-width="3"/>
<line x1="998.0" y1="722.7" x2="1021.4" y2="722.7" stroke="#808080" stroke-width="3"/>
<text transform="translate(956.01,738.81) scale(1.0755,1)" font-size="31.43" fill="#808080" stroke="#808080" stroke-width="0.5">*</text>
<text transform="translate(969.81,738.81) scale(1.0755,1)" font-size="31.43" fill="#808080" stroke="#808080" stroke-width="0.5">*</text>
<text transform="translate(983.61,738.81) scale(1.0755,1)" font-size="31.43" fill="#808080" stroke="#808080" stroke-width="0.5">*</text>
<line x1="944.2" y1="743.8" x2="994.3" y2="743.8" stroke="#808080" stroke-width="3"/>
<line x1="1012.7" y1="743.8" x2="1062.3" y2="743.8" stroke="#808080" stroke-width="3"/>
<text transform="translate(996.41,759.91) scale(1.0755,1)" font-size="31.43" fill="#808080" stroke="#808080" stroke-width="0.5">*</text>
<line x1="987.0" y1="761.0" x2="1015.0" y2="761.0" stroke="#808080" stroke-width="3"/>
<line x1="1033.8" y1="761.0" x2="1060.9" y2="761.0" stroke="#808080" stroke-width="3"/>
<text transform="translate(1016.61,777.11) scale(1.0755,1)" font-size="31.43" fill="#808080" stroke="#808080" stroke-width="0.5">*</text>
<line x1="1442.2" y1="707.0" x2="1445.9" y2="707.0" stroke="#808080" stroke-width="3"/>
<line x1="1488.1" y1="707.0" x2="1492.3" y2="707.0" stroke="#808080" stroke-width="3"/>
<text transform="translate(1445.71,723.11) scale(1.0755,1)" font-size="31.43" fill="#808080" stroke="#808080" stroke-width="0.5">*</text>
<text transform="translate(1460.01,723.11) scale(1.0755,1)" font-size="31.43" fill="#808080" stroke="#808080" stroke-width="0.5">*</text>
<text transform="translate(1473.71,723.11) scale(1.0755,1)" font-size="31.43" fill="#808080" stroke="#808080" stroke-width="0.5">*</text>
<line x1="1368.3" y1="765.8" x2="1386.6" y2="765.8" stroke="#808080" stroke-width="3"/>
<line x1="1428.4" y1="765.8" x2="1447.7" y2="765.8" stroke="#808080" stroke-width="3"/>
<text transform="translate(1386.91,781.91) scale(1.0755,1)" font-size="31.43" fill="#808080" stroke="#808080" stroke-width="0.5">*</text>
<text transform="translate(1400.71,781.91) scale(1.0755,1)" font-size="31.43" fill="#808080" stroke="#808080" stroke-width="0.5">*</text>
<text transform="translate(1414.51,781.91) scale(1.0755,1)" font-size="31.43" fill="#808080" stroke="#808080" stroke-width="0.5">*</text>
</svg>
</body></html>
